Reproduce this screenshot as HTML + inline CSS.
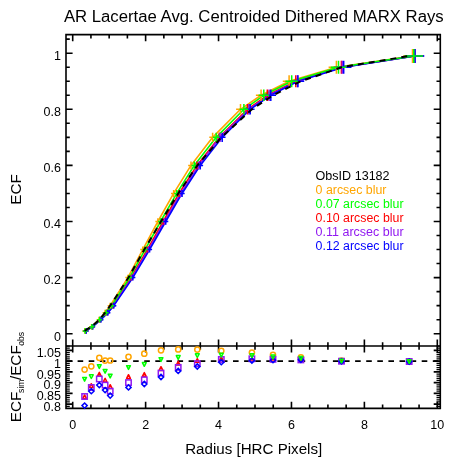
<!DOCTYPE html>
<html><head><meta charset="utf-8"><style>html,body{margin:0;padding:0;background:#fff;width:454px;height:467px;overflow:hidden}svg{display:block;will-change:transform}</style></head>
<body><svg width="454" height="467" viewBox="0 0 454 467" font-family='"Liberation Sans", sans-serif'><path d="M66.0,34.6H440.3V408.4H66.0Z M66.0,346.0H440.3 M72.70,34.6v6.6 M72.70,346.0v-6.6 M72.70,346.0v6.6 M72.70,408.4v-6.6 M90.93,34.6v3.8 M90.93,346.0v-3.8 M90.93,346.0v3.8 M90.93,408.4v-3.8 M109.16,34.6v3.8 M109.16,346.0v-3.8 M109.16,346.0v3.8 M109.16,408.4v-3.8 M127.39,34.6v3.8 M127.39,346.0v-3.8 M127.39,346.0v3.8 M127.39,408.4v-3.8 M145.62,34.6v6.6 M145.62,346.0v-6.6 M145.62,346.0v6.6 M145.62,408.4v-6.6 M163.85,34.6v3.8 M163.85,346.0v-3.8 M163.85,346.0v3.8 M163.85,408.4v-3.8 M182.08,34.6v3.8 M182.08,346.0v-3.8 M182.08,346.0v3.8 M182.08,408.4v-3.8 M200.31,34.6v3.8 M200.31,346.0v-3.8 M200.31,346.0v3.8 M200.31,408.4v-3.8 M218.54,34.6v6.6 M218.54,346.0v-6.6 M218.54,346.0v6.6 M218.54,408.4v-6.6 M236.77,34.6v3.8 M236.77,346.0v-3.8 M236.77,346.0v3.8 M236.77,408.4v-3.8 M255.00,34.6v3.8 M255.00,346.0v-3.8 M255.00,346.0v3.8 M255.00,408.4v-3.8 M273.23,34.6v3.8 M273.23,346.0v-3.8 M273.23,346.0v3.8 M273.23,408.4v-3.8 M291.46,34.6v6.6 M291.46,346.0v-6.6 M291.46,346.0v6.6 M291.46,408.4v-6.6 M309.69,34.6v3.8 M309.69,346.0v-3.8 M309.69,346.0v3.8 M309.69,408.4v-3.8 M327.92,34.6v3.8 M327.92,346.0v-3.8 M327.92,346.0v3.8 M327.92,408.4v-3.8 M346.15,34.6v3.8 M346.15,346.0v-3.8 M346.15,346.0v3.8 M346.15,408.4v-3.8 M364.38,34.6v6.6 M364.38,346.0v-6.6 M364.38,346.0v6.6 M364.38,408.4v-6.6 M382.61,34.6v3.8 M382.61,346.0v-3.8 M382.61,346.0v3.8 M382.61,408.4v-3.8 M400.84,34.6v3.8 M400.84,346.0v-3.8 M400.84,346.0v3.8 M400.84,408.4v-3.8 M419.07,34.6v3.8 M419.07,346.0v-3.8 M419.07,346.0v3.8 M419.07,408.4v-3.8 M437.30,34.6v6.6 M437.30,346.0v-6.6 M437.30,346.0v6.6 M437.30,408.4v-6.6 M66.0,333.70h6.6 M440.3,333.70h-6.6 M66.0,319.68h3.8 M440.3,319.68h-3.8 M66.0,305.65h3.8 M440.3,305.65h-3.8 M66.0,291.62h3.8 M440.3,291.62h-3.8 M66.0,277.60h6.6 M440.3,277.60h-6.6 M66.0,263.57h3.8 M440.3,263.57h-3.8 M66.0,249.55h3.8 M440.3,249.55h-3.8 M66.0,235.52h3.8 M440.3,235.52h-3.8 M66.0,221.50h6.6 M440.3,221.50h-6.6 M66.0,207.47h3.8 M440.3,207.47h-3.8 M66.0,193.45h3.8 M440.3,193.45h-3.8 M66.0,179.42h3.8 M440.3,179.42h-3.8 M66.0,165.40h6.6 M440.3,165.40h-6.6 M66.0,151.37h3.8 M440.3,151.37h-3.8 M66.0,137.35h3.8 M440.3,137.35h-3.8 M66.0,123.32h3.8 M440.3,123.32h-3.8 M66.0,109.30h6.6 M440.3,109.30h-6.6 M66.0,95.27h3.8 M440.3,95.27h-3.8 M66.0,81.25h3.8 M440.3,81.25h-3.8 M66.0,67.22h3.8 M440.3,67.22h-3.8 M66.0,53.20h6.6 M440.3,53.20h-6.6 M66.0,39.17h3.8 M440.3,39.17h-3.8 M66.0,404.10h6.6 M440.3,404.10h-6.6 M66.0,393.35h6.6 M440.3,393.35h-6.6 M66.0,382.60h6.6 M440.3,382.60h-6.6 M66.0,371.85h6.6 M440.3,371.85h-6.6 M66.0,361.10h6.6 M440.3,361.10h-6.6 M66.0,350.35h6.6 M440.3,350.35h-6.6" fill="none" stroke="#000" stroke-width="1.6"/>
<path d="M66.0,406.25h3.8 M440.3,406.25h-3.8 M66.0,401.95h3.8 M440.3,401.95h-3.8 M66.0,399.80h3.8 M440.3,399.80h-3.8 M66.0,397.65h3.8 M440.3,397.65h-3.8 M66.0,395.50h3.8 M440.3,395.50h-3.8 M66.0,391.20h3.8 M440.3,391.20h-3.8 M66.0,389.05h3.8 M440.3,389.05h-3.8 M66.0,386.90h3.8 M440.3,386.90h-3.8 M66.0,384.75h3.8 M440.3,384.75h-3.8 M66.0,380.45h3.8 M440.3,380.45h-3.8 M66.0,378.30h3.8 M440.3,378.30h-3.8 M66.0,376.15h3.8 M440.3,376.15h-3.8 M66.0,374.00h3.8 M440.3,374.00h-3.8 M66.0,369.70h3.8 M440.3,369.70h-3.8 M66.0,367.55h3.8 M440.3,367.55h-3.8 M66.0,365.40h3.8 M440.3,365.40h-3.8 M66.0,363.25h3.8 M440.3,363.25h-3.8 M66.0,358.95h3.8 M440.3,358.95h-3.8 M66.0,356.80h3.8 M440.3,356.80h-3.8 M66.0,354.65h3.8 M440.3,354.65h-3.8 M66.0,352.50h3.8 M440.3,352.50h-3.8 M66.0,348.20h3.8 M440.3,348.20h-3.8 M66.0,346.05h3.8 M440.3,346.05h-3.8" fill="none" stroke="#000" stroke-width="1.25"/>
<polyline points="84.90,330.89 91.53,326.69 99.09,319.68 105.06,312.66 110.15,305.65 127.85,277.60 142.76,249.55 157.88,221.50 173.65,193.45 191.01,165.40 212.63,137.35 240.50,109.30 261.10,95.28 289.10,81.25 336.40,67.23 412.50,56.00" fill="none" stroke="#FFA500" stroke-width="1.6" stroke-linejoin="round"/>
<polyline points="85.82,330.89 92.40,326.69 100.19,319.68 106.88,312.66 112.79,305.65 131.00,277.60 147.32,249.55 163.20,221.50 179.06,193.45 196.96,165.40 219.33,137.35 247.50,109.30 267.30,95.28 295.80,81.25 341.40,67.23 414.60,56.00" fill="none" stroke="#FF0000" stroke-width="1.6" stroke-linejoin="round"/>
<polyline points="85.82,330.89 92.51,326.69 100.53,319.68 107.39,312.66 113.33,305.65 132.03,277.60 148.56,249.55 164.54,221.50 180.68,193.45 198.72,165.40 220.00,137.35 248.90,109.30 269.10,95.28 297.50,81.25 342.30,67.23 414.80,56.00" fill="none" stroke="#9018F0" stroke-width="1.6" stroke-linejoin="round"/>
<polyline points="86.10,330.89 92.71,326.69 100.98,319.68 107.90,312.66 113.84,305.65 132.87,277.60 149.58,249.55 165.74,221.50 182.06,193.45 200.27,165.40 222.20,137.35 250.20,109.30 270.80,95.28 297.90,81.25 343.70,67.23 415.00,56.00" fill="none" stroke="#0000FF" stroke-width="1.6" stroke-linejoin="round"/>
<polyline points="85.24,330.89 91.99,326.69 99.65,319.68 105.98,312.66 111.65,305.65 129.49,277.60 145.02,249.55 160.53,221.50 176.74,193.45 194.28,165.40 216.20,137.35 243.90,109.30 263.80,95.28 291.70,81.25 338.50,67.23 413.80,56.00" fill="none" stroke="#00FF00" stroke-width="1.6" stroke-linejoin="round"/>
<path d="M82.40,330.89h5.00M84.90,328.09v5.60M89.03,326.69h5.00M91.53,323.89v5.60M96.59,319.68h5.00M99.09,316.87v5.60M102.56,312.66h5.00M105.06,309.86v5.61M107.65,305.65h5.00M110.15,302.84v5.63M125.35,277.60h5.00M127.85,274.72v5.75M140.26,249.55h5.01M142.76,246.54v6.02M155.35,221.50h5.06M157.88,218.26v6.47M171.04,193.45h5.22M173.65,189.89v7.12M188.17,165.40h5.67M191.01,161.40v8.00M209.28,137.35h6.69M212.63,132.79v9.13M236.11,109.30h8.77M240.50,104.04v10.52M255.88,95.28h10.43M261.10,89.61v11.33M282.77,81.25h12.65M289.10,75.15v12.21M328.61,67.23h15.59M336.40,60.64v13.16M403.22,56.00h18.56M412.50,49.01v13.99" fill="none" stroke="#FFA500" stroke-width="1.5"/>
<path d="M83.32,330.89h5.00M85.82,328.09v5.60M89.90,326.69h5.00M92.40,323.89v5.60M97.69,319.68h5.00M100.19,316.87v5.60M104.38,312.66h5.00M106.88,309.86v5.61M110.29,305.65h5.00M112.79,302.84v5.63M128.50,277.60h5.00M131.00,274.72v5.75M144.81,249.55h5.01M147.32,246.54v6.02M160.67,221.50h5.06M163.20,218.26v6.47M176.45,193.45h5.22M179.06,189.89v7.12M194.13,165.40h5.67M196.96,161.40v8.00M215.99,137.35h6.69M219.33,132.79v9.13M243.11,109.30h8.77M247.50,104.04v10.52M262.08,95.28h10.43M267.30,89.61v11.33M289.47,81.25h12.65M295.80,75.15v12.21M333.61,67.23h15.59M341.40,60.64v13.16M405.32,56.00h18.56M414.60,49.01v13.99" fill="none" stroke="#FF0000" stroke-width="1.5"/>
<path d="M83.32,330.89h5.00M85.82,328.09v5.60M90.01,326.69h5.00M92.51,323.89v5.60M98.03,319.68h5.00M100.53,316.87v5.60M104.89,312.66h5.00M107.39,309.86v5.61M110.83,305.65h5.00M113.33,302.84v5.63M129.53,277.60h5.00M132.03,274.72v5.75M146.05,249.55h5.01M148.56,246.54v6.02M162.01,221.50h5.06M164.54,218.26v6.47M178.07,193.45h5.22M180.68,189.89v7.12M195.88,165.40h5.67M198.72,161.40v8.00M216.65,137.35h6.69M220.00,132.79v9.13M244.51,109.30h8.77M248.90,104.04v10.52M263.88,95.28h10.43M269.10,89.61v11.33M291.17,81.25h12.65M297.50,75.15v12.21M334.51,67.23h15.59M342.30,60.64v13.16M405.52,56.00h18.56M414.80,49.01v13.99" fill="none" stroke="#9018F0" stroke-width="1.5"/>
<path d="M83.60,330.89h5.00M86.10,328.09v5.60M90.21,326.69h5.00M92.71,323.89v5.60M98.48,319.68h5.00M100.98,316.87v5.60M105.40,312.66h5.00M107.90,309.86v5.61M111.34,305.65h5.00M113.84,302.84v5.63M130.37,277.60h5.00M132.87,274.72v5.75M147.07,249.55h5.01M149.58,246.54v6.02M163.21,221.50h5.06M165.74,218.26v6.47M179.45,193.45h5.22M182.06,189.89v7.12M197.43,165.40h5.67M200.27,161.40v8.00M218.85,137.35h6.69M222.20,132.79v9.13M245.81,109.30h8.77M250.20,104.04v10.52M265.58,95.28h10.43M270.80,89.61v11.33M291.57,81.25h12.65M297.90,75.15v12.21M335.91,67.23h15.59M343.70,60.64v13.16M405.72,56.00h18.56M415.00,49.01v13.99" fill="none" stroke="#0000FF" stroke-width="1.5"/>
<path d="M82.74,330.89h5.00M85.24,328.09v5.60M89.49,326.69h5.00M91.99,323.89v5.60M97.15,319.68h5.00M99.65,316.87v5.60M103.48,312.66h5.00M105.98,309.86v5.61M109.15,305.65h5.00M111.65,302.84v5.63M126.99,277.60h5.00M129.49,274.72v5.75M142.51,249.55h5.01M145.02,246.54v6.02M158.00,221.50h5.06M160.53,218.26v6.47M174.13,193.45h5.22M176.74,189.89v7.12M191.44,165.40h5.67M194.28,161.40v8.00M212.86,137.35h6.69M216.20,132.79v9.13M239.51,109.30h8.77M243.90,104.04v10.52M258.58,95.28h10.43M263.80,89.61v11.33M285.37,81.25h12.65M291.70,75.15v12.21M330.71,67.23h15.59M338.50,60.64v13.16M404.52,56.00h18.56M413.80,49.01v13.99" fill="none" stroke="#00FF00" stroke-width="1.5"/>
<polyline points="84.60,330.89 91.30,326.69 99.30,319.68 105.10,312.66 110.20,305.65 128.50,277.60 144.30,249.55 161.00,221.50 178.20,193.45 197.30,165.40 221.30,137.35 251.90,109.30 273.00,95.28 300.90,81.25 341.50,67.23 409.20,56.00" fill="none" stroke="#000" stroke-width="2" stroke-dasharray="6 5"/>
<line x1="66.5" y1="361.1" x2="440.3" y2="361.1" stroke="#000" stroke-width="1.8" stroke-dasharray="5.6 5.5"/>
<circle cx="84.60" cy="369.60" r="2.6" fill="none" stroke="#FFA500" stroke-width="1.5"/>
<circle cx="91.30" cy="366.30" r="2.6" fill="none" stroke="#FFA500" stroke-width="1.5"/>
<circle cx="99.30" cy="357.80" r="2.6" fill="none" stroke="#FFA500" stroke-width="1.5"/>
<circle cx="105.10" cy="360.60" r="2.6" fill="none" stroke="#FFA500" stroke-width="1.5"/>
<circle cx="110.20" cy="360.50" r="2.6" fill="none" stroke="#FFA500" stroke-width="1.5"/>
<circle cx="128.50" cy="356.80" r="2.6" fill="none" stroke="#FFA500" stroke-width="1.5"/>
<circle cx="144.30" cy="353.70" r="2.6" fill="none" stroke="#FFA500" stroke-width="1.5"/>
<circle cx="161.00" cy="350.30" r="2.6" fill="none" stroke="#FFA500" stroke-width="1.5"/>
<circle cx="178.20" cy="349.40" r="2.6" fill="none" stroke="#FFA500" stroke-width="1.5"/>
<circle cx="197.30" cy="349.60" r="2.6" fill="none" stroke="#FFA500" stroke-width="1.5"/>
<circle cx="221.30" cy="350.80" r="2.6" fill="none" stroke="#FFA500" stroke-width="1.5"/>
<circle cx="251.90" cy="352.60" r="2.6" fill="none" stroke="#FFA500" stroke-width="1.5"/>
<circle cx="273.00" cy="354.90" r="2.6" fill="none" stroke="#FFA500" stroke-width="1.5"/>
<circle cx="300.90" cy="357.40" r="2.6" fill="none" stroke="#FFA500" stroke-width="1.5"/>
<circle cx="341.50" cy="360.60" r="2.6" fill="none" stroke="#FFA500" stroke-width="1.5"/>
<circle cx="409.20" cy="361.30" r="2.6" fill="none" stroke="#FFA500" stroke-width="1.5"/>
<path d="M82.70,398.50h3.8l-1.9,-3.7z" fill="none" stroke="#FF0000" stroke-width="1.5" stroke-linejoin="round"/>
<path d="M89.40,387.40h3.8l-1.9,-3.7z" fill="none" stroke="#FF0000" stroke-width="1.5" stroke-linejoin="round"/>
<path d="M97.40,376.10h3.8l-1.9,-3.7z" fill="none" stroke="#FF0000" stroke-width="1.5" stroke-linejoin="round"/>
<path d="M103.20,382.00h3.8l-1.9,-3.7z" fill="none" stroke="#FF0000" stroke-width="1.5" stroke-linejoin="round"/>
<path d="M108.30,388.40h3.8l-1.9,-3.7z" fill="none" stroke="#FF0000" stroke-width="1.5" stroke-linejoin="round"/>
<path d="M126.60,378.40h3.8l-1.9,-3.7z" fill="none" stroke="#FF0000" stroke-width="1.5" stroke-linejoin="round"/>
<path d="M142.40,376.30h3.8l-1.9,-3.7z" fill="none" stroke="#FF0000" stroke-width="1.5" stroke-linejoin="round"/>
<path d="M159.10,370.40h3.8l-1.9,-3.7z" fill="none" stroke="#FF0000" stroke-width="1.5" stroke-linejoin="round"/>
<path d="M176.30,365.10h3.8l-1.9,-3.7z" fill="none" stroke="#FF0000" stroke-width="1.5" stroke-linejoin="round"/>
<path d="M195.40,362.30h3.8l-1.9,-3.7z" fill="none" stroke="#FF0000" stroke-width="1.5" stroke-linejoin="round"/>
<path d="M219.40,360.60h3.8l-1.9,-3.7z" fill="none" stroke="#FF0000" stroke-width="1.5" stroke-linejoin="round"/>
<path d="M250.00,361.30h3.8l-1.9,-3.7z" fill="none" stroke="#FF0000" stroke-width="1.5" stroke-linejoin="round"/>
<path d="M271.10,361.60h3.8l-1.9,-3.7z" fill="none" stroke="#FF0000" stroke-width="1.5" stroke-linejoin="round"/>
<path d="M299.00,361.60h3.8l-1.9,-3.7z" fill="none" stroke="#FF0000" stroke-width="1.5" stroke-linejoin="round"/>
<path d="M339.60,362.90h3.8l-1.9,-3.7z" fill="none" stroke="#FF0000" stroke-width="1.5" stroke-linejoin="round"/>
<path d="M407.30,363.30h3.8l-1.9,-3.7z" fill="none" stroke="#FF0000" stroke-width="1.5" stroke-linejoin="round"/>
<rect x="81.90" y="393.80" width="5.4" height="5.4" fill="none" stroke="#9018F0" stroke-width="1.5"/>
<rect x="88.60" y="384.80" width="5.4" height="5.4" fill="none" stroke="#9018F0" stroke-width="1.5"/>
<rect x="96.60" y="376.30" width="5.4" height="5.4" fill="none" stroke="#9018F0" stroke-width="1.5"/>
<rect x="102.40" y="382.40" width="5.4" height="5.4" fill="none" stroke="#9018F0" stroke-width="1.5"/>
<rect x="107.50" y="388.50" width="5.4" height="5.4" fill="none" stroke="#9018F0" stroke-width="1.5"/>
<rect x="125.80" y="379.90" width="5.4" height="5.4" fill="none" stroke="#9018F0" stroke-width="1.5"/>
<rect x="141.60" y="377.10" width="5.4" height="5.4" fill="none" stroke="#9018F0" stroke-width="1.5"/>
<rect x="158.30" y="370.40" width="5.4" height="5.4" fill="none" stroke="#9018F0" stroke-width="1.5"/>
<rect x="175.50" y="364.70" width="5.4" height="5.4" fill="none" stroke="#9018F0" stroke-width="1.5"/>
<rect x="194.60" y="361.00" width="5.4" height="5.4" fill="none" stroke="#9018F0" stroke-width="1.5"/>
<rect x="218.60" y="356.80" width="5.4" height="5.4" fill="none" stroke="#9018F0" stroke-width="1.5"/>
<rect x="249.20" y="356.10" width="5.4" height="5.4" fill="none" stroke="#9018F0" stroke-width="1.5"/>
<rect x="270.30" y="356.60" width="5.4" height="5.4" fill="none" stroke="#9018F0" stroke-width="1.5"/>
<rect x="298.20" y="357.20" width="5.4" height="5.4" fill="none" stroke="#9018F0" stroke-width="1.5"/>
<rect x="338.80" y="358.50" width="5.4" height="5.4" fill="none" stroke="#9018F0" stroke-width="1.5"/>
<rect x="406.50" y="358.80" width="5.4" height="5.4" fill="none" stroke="#9018F0" stroke-width="1.5"/>
<path d="M84.60,403.00l2.6,2.6l-2.6,2.6l-2.6,-2.6z" fill="none" stroke="#0000FF" stroke-width="1.5"/>
<path d="M91.30,388.60l2.6,2.6l-2.6,2.6l-2.6,-2.6z" fill="none" stroke="#0000FF" stroke-width="1.5"/>
<path d="M99.30,382.50l2.6,2.6l-2.6,2.6l-2.6,-2.6z" fill="none" stroke="#0000FF" stroke-width="1.5"/>
<path d="M105.10,387.50l2.6,2.6l-2.6,2.6l-2.6,-2.6z" fill="none" stroke="#0000FF" stroke-width="1.5"/>
<path d="M110.20,393.00l2.6,2.6l-2.6,2.6l-2.6,-2.6z" fill="none" stroke="#0000FF" stroke-width="1.5"/>
<path d="M128.50,384.80l2.6,2.6l-2.6,2.6l-2.6,-2.6z" fill="none" stroke="#0000FF" stroke-width="1.5"/>
<path d="M144.30,381.40l2.6,2.6l-2.6,2.6l-2.6,-2.6z" fill="none" stroke="#0000FF" stroke-width="1.5"/>
<path d="M161.00,374.40l2.6,2.6l-2.6,2.6l-2.6,-2.6z" fill="none" stroke="#0000FF" stroke-width="1.5"/>
<path d="M178.20,368.30l2.6,2.6l-2.6,2.6l-2.6,-2.6z" fill="none" stroke="#0000FF" stroke-width="1.5"/>
<path d="M197.30,363.90l2.6,2.6l-2.6,2.6l-2.6,-2.6z" fill="none" stroke="#0000FF" stroke-width="1.5"/>
<path d="M221.30,359.60l2.6,2.6l-2.6,2.6l-2.6,-2.6z" fill="none" stroke="#0000FF" stroke-width="1.5"/>
<path d="M251.90,357.90l2.6,2.6l-2.6,2.6l-2.6,-2.6z" fill="none" stroke="#0000FF" stroke-width="1.5"/>
<path d="M273.00,357.60l2.6,2.6l-2.6,2.6l-2.6,-2.6z" fill="none" stroke="#0000FF" stroke-width="1.5"/>
<path d="M300.90,357.20l2.6,2.6l-2.6,2.6l-2.6,-2.6z" fill="none" stroke="#0000FF" stroke-width="1.5"/>
<path d="M341.50,358.70l2.6,2.6l-2.6,2.6l-2.6,-2.6z" fill="none" stroke="#0000FF" stroke-width="1.5"/>
<path d="M409.20,359.00l2.6,2.6l-2.6,2.6l-2.6,-2.6z" fill="none" stroke="#0000FF" stroke-width="1.5"/>
<path d="M82.70,377.40h3.8l-1.9,3.7z" fill="none" stroke="#00FF00" stroke-width="1.5" stroke-linejoin="round"/>
<path d="M89.40,374.80h3.8l-1.9,3.7z" fill="none" stroke="#00FF00" stroke-width="1.5" stroke-linejoin="round"/>
<path d="M97.40,364.70h3.8l-1.9,3.7z" fill="none" stroke="#00FF00" stroke-width="1.5" stroke-linejoin="round"/>
<path d="M103.20,369.50h3.8l-1.9,3.7z" fill="none" stroke="#00FF00" stroke-width="1.5" stroke-linejoin="round"/>
<path d="M108.30,374.20h3.8l-1.9,3.7z" fill="none" stroke="#00FF00" stroke-width="1.5" stroke-linejoin="round"/>
<path d="M126.60,365.70h3.8l-1.9,3.7z" fill="none" stroke="#00FF00" stroke-width="1.5" stroke-linejoin="round"/>
<path d="M142.40,362.60h3.8l-1.9,3.7z" fill="none" stroke="#00FF00" stroke-width="1.5" stroke-linejoin="round"/>
<path d="M159.10,357.70h3.8l-1.9,3.7z" fill="none" stroke="#00FF00" stroke-width="1.5" stroke-linejoin="round"/>
<path d="M176.30,355.60h3.8l-1.9,3.7z" fill="none" stroke="#00FF00" stroke-width="1.5" stroke-linejoin="round"/>
<path d="M195.40,353.80h3.8l-1.9,3.7z" fill="none" stroke="#00FF00" stroke-width="1.5" stroke-linejoin="round"/>
<path d="M219.40,353.20h3.8l-1.9,3.7z" fill="none" stroke="#00FF00" stroke-width="1.5" stroke-linejoin="round"/>
<path d="M250.00,353.80h3.8l-1.9,3.7z" fill="none" stroke="#00FF00" stroke-width="1.5" stroke-linejoin="round"/>
<path d="M271.10,355.10h3.8l-1.9,3.7z" fill="none" stroke="#00FF00" stroke-width="1.5" stroke-linejoin="round"/>
<path d="M299.00,356.50h3.8l-1.9,3.7z" fill="none" stroke="#00FF00" stroke-width="1.5" stroke-linejoin="round"/>
<path d="M339.60,359.20h3.8l-1.9,3.7z" fill="none" stroke="#00FF00" stroke-width="1.5" stroke-linejoin="round"/>
<path d="M407.30,359.70h3.8l-1.9,3.7z" fill="none" stroke="#00FF00" stroke-width="1.5" stroke-linejoin="round"/>
<text x="61.00" y="340.50" font-size="12.5" text-anchor="end" fill="#000" >0</text>
<text x="61.00" y="284.40" font-size="12.5" text-anchor="end" fill="#000" >0.2</text>
<text x="61.00" y="228.30" font-size="12.5" text-anchor="end" fill="#000" >0.4</text>
<text x="61.00" y="172.20" font-size="12.5" text-anchor="end" fill="#000" >0.6</text>
<text x="61.00" y="116.10" font-size="12.5" text-anchor="end" fill="#000" >0.8</text>
<text x="61.00" y="60.00" font-size="12.5" text-anchor="end" fill="#000" >1</text>
<text x="61.00" y="410.90" font-size="12.5" text-anchor="end" fill="#000" >0.8</text>
<text x="61.00" y="400.15" font-size="12.5" text-anchor="end" fill="#000" >0.85</text>
<text x="61.00" y="389.40" font-size="12.5" text-anchor="end" fill="#000" >0.9</text>
<text x="61.00" y="378.65" font-size="12.5" text-anchor="end" fill="#000" >0.95</text>
<text x="61.00" y="367.90" font-size="12.5" text-anchor="end" fill="#000" >1</text>
<text x="61.00" y="357.15" font-size="12.5" text-anchor="end" fill="#000" >1.05</text>
<text x="72.70" y="429.00" font-size="12.5" text-anchor="middle" fill="#000" >0</text>
<text x="145.62" y="429.00" font-size="12.5" text-anchor="middle" fill="#000" >2</text>
<text x="218.54" y="429.00" font-size="12.5" text-anchor="middle" fill="#000" >4</text>
<text x="291.46" y="429.00" font-size="12.5" text-anchor="middle" fill="#000" >6</text>
<text x="364.38" y="429.00" font-size="12.5" text-anchor="middle" fill="#000" >8</text>
<text x="437.30" y="429.00" font-size="12.5" text-anchor="middle" fill="#000" >10</text>
<text x="63.90" y="21.70" font-size="16" text-anchor="start" fill="#000" textLength="379.8" lengthAdjust="spacingAndGlyphs">AR Lacertae Avg. Centroided Dithered MARX Rays</text>
<text x="185.20" y="453.90" font-size="15.5" text-anchor="start" fill="#000" textLength="137" lengthAdjust="spacingAndGlyphs">Radius [HRC Pixels]</text>
<text transform="translate(21,189.5) rotate(-90)" font-size="15.3" text-anchor="middle">ECF</text>
<text transform="translate(21,422.2) rotate(-90)" font-size="15.3" text-anchor="start">ECF<tspan font-size="8.6" dy="3" dx="-1.3">sim</tspan><tspan dy="-3" dx="-0.6">/ECF</tspan><tspan font-size="8.6" dy="3" dx="-0.4">obs</tspan></text>
<text x="315.60" y="179.80" font-size="12" text-anchor="start" fill="#000" textLength="74.0" lengthAdjust="spacingAndGlyphs">ObsID 13182</text>
<text x="315.60" y="193.80" font-size="12" text-anchor="start" fill="#FFA500" textLength="70.8" lengthAdjust="spacingAndGlyphs">0 arcsec blur</text>
<text x="315.60" y="207.80" font-size="12" text-anchor="start" fill="#00FF00" textLength="88.0" lengthAdjust="spacingAndGlyphs">0.07 arcsec blur</text>
<text x="315.60" y="221.80" font-size="12" text-anchor="start" fill="#FF0000" textLength="88.0" lengthAdjust="spacingAndGlyphs">0.10 arcsec blur</text>
<text x="315.60" y="235.80" font-size="12" text-anchor="start" fill="#9018F0" textLength="88.0" lengthAdjust="spacingAndGlyphs">0.11 arcsec blur</text>
<text x="315.60" y="249.80" font-size="12" text-anchor="start" fill="#0000FF" textLength="88.0" lengthAdjust="spacingAndGlyphs">0.12 arcsec blur</text></svg></body></html>
